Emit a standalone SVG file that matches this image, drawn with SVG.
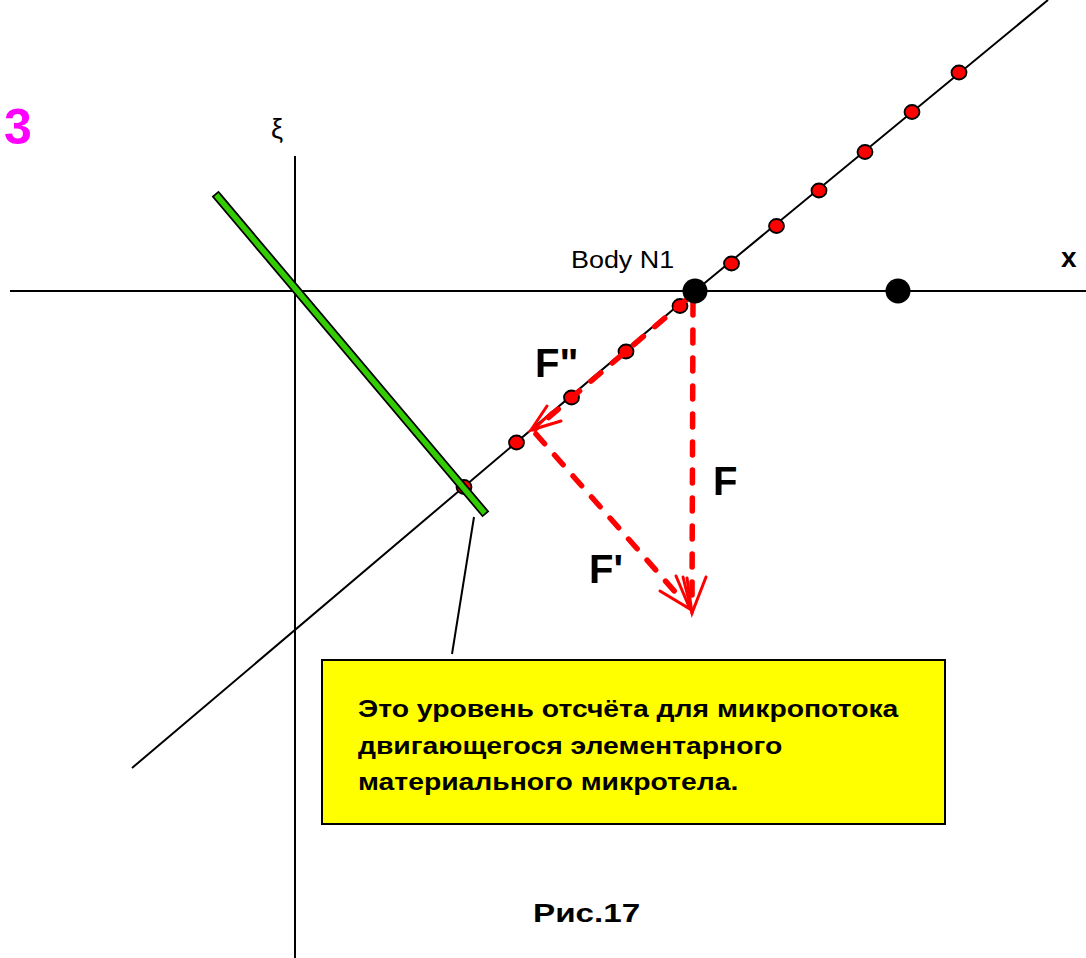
<svg xmlns="http://www.w3.org/2000/svg" width="1086" height="958" viewBox="0 0 1086 958">
<style>
.ax{stroke:#000;stroke-width:2;fill:none}
.rd{fill:#ff0000;stroke:#000;stroke-width:1.8}
.bk{fill:#000}
.vec{stroke:#ff0000;stroke-width:5.5;stroke-dasharray:13 15;stroke-linecap:round;fill:none}
.hd{stroke:#ff0000;stroke-width:3;stroke-linecap:round;fill:none}
.t{font-family:"Liberation Sans",Arial,sans-serif;fill:#000}
.b{font-weight:bold}
</style>
<rect width="1086" height="958" fill="#fff"/>
<g id="connectors">
<line class="ax" x1="10" y1="291" x2="1086" y2="291"/>
<line class="ax" x1="295" y1="156" x2="295" y2="958"/>
<polyline class="ax" points="132,768 695,291 1048,0"/>
<line class="ax" x1="474" y1="517" x2="452" y2="654"/>
</g>
<g id="dots">
<ellipse class="rd" cx="731.5" cy="263.5" rx="7.5" ry="7"/>
<ellipse class="rd" cx="776.5" cy="226" rx="7.5" ry="7"/>
<ellipse class="rd" cx="819" cy="190.5" rx="7.5" ry="7"/>
<ellipse class="rd" cx="865" cy="152" rx="7.5" ry="7"/>
<ellipse class="rd" cx="912" cy="112" rx="7.5" ry="7"/>
<ellipse class="rd" cx="959" cy="72.5" rx="7.5" ry="7"/>
<ellipse class="rd" cx="680" cy="306" rx="7.5" ry="7"/>
<ellipse class="rd" cx="626" cy="351.5" rx="7.5" ry="7"/>
<ellipse class="rd" cx="571.5" cy="397.5" rx="7.5" ry="7"/>
<ellipse class="rd" cx="516.5" cy="442.5" rx="7.5" ry="7"/>
<ellipse class="rd" cx="464" cy="487" rx="7.5" ry="7"/>
</g>
<g id="green-bar">
<line x1="218" y1="197" x2="483" y2="511" stroke="#000" stroke-width="9" stroke-linecap="square"/>
<line x1="218" y1="197" x2="483" y2="511" stroke="#33cc00" stroke-width="5.5" stroke-linecap="square"/>
</g>
<g id="vectors">
<line class="vec" x1="686" y1="300" x2="535" y2="429"/>
<polyline class="hd" points="547,406 531,430 561,421"/>
<polyline class="hd" points="552,412 533,430"/>
<line class="vec" x1="693" y1="302" x2="692" y2="605"/>
<polyline class="hd" points="683,577 692,613 706,577"/>
<polyline class="hd" points="687,578 692,613"/>
<line class="vec" x1="536" y1="434" x2="684" y2="602"/>
<polyline class="hd" points="660,591 690,609 676,576"/>
</g>
<g id="body-n1">
<circle class="bk" cx="695" cy="291" r="12.5"/>
<text class="t" font-size="23" transform="translate(571,268) scale(1.17,1)">Body N1</text>
</g>
<g id="body-n2">
<circle class="bk" cx="898" cy="291" r="12.5"/>
</g>
<g id="labels">
<text x="4" y="144" font-family="Liberation Sans,Arial,sans-serif" font-weight="bold" font-size="50" fill="#ff00ff">3</text>
<text class="t" x="271" y="138" font-size="27">ξ</text>
<text class="t b" x="1061" y="267" font-size="28">x</text>
<text class="t b" x="535" y="377" font-size="40">F"</text>
<text class="t b" x="713" y="495" font-size="40">F</text>
<text class="t b" x="589" y="583" font-size="40">F'</text>
<text class="t b" font-size="25" transform="translate(533,922) scale(1.33,1)">Рис.17</text>
</g>
<g id="note">
<rect x="322" y="660" width="623" height="164" fill="#ffff00" stroke="#000" stroke-width="2"/>
<text class="t b" font-size="24" transform="translate(358,0) scale(1.18,1)">
<tspan x="0" y="717">Это уровень отсчёта для микропотока</tspan>
<tspan x="0" y="754">двигающегося элементарного</tspan>
<tspan x="0" y="790">материального микротела.</tspan>
</text>
</g>
</svg>
